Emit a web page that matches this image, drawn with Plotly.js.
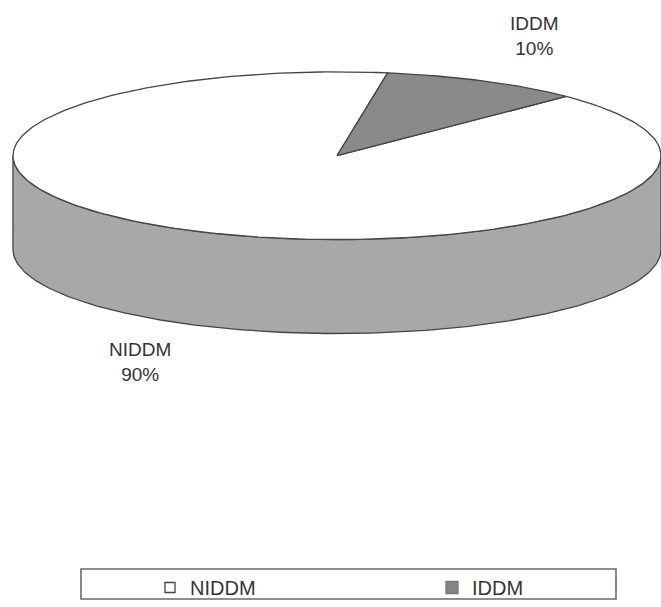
<!DOCTYPE html>
<html><head><meta charset="utf-8">
<script src="https://cdn.plot.ly/plotly-3.0.1.min.js"></script>
<style>html,body{margin:0;padding:0;background:#fff}#chart{width:661px;height:607px}</style>
</head><body><div id="chart"></div>
<script>
// ---- data ----
const categories = ['NIDDM', 'IDDM'];
const values = [90, 10];
const topColors = ['#ffffff', '#8a8a8a'];
const sideColors = ['#a8a8a8', '#7a7a7a'];
const legendColors = ['#ffffff', '#858585'];
const startAngle = 45; // degrees clockwise from 12 o'clock where the first slice starts

// ---- geometry helpers ----
const DEPTH = 1.12;   // pie thickness in units of the vertical radius
const total = values.reduce((a, b) => a + b, 0);
let acc = startAngle;
const slices = values.map((v, i) => { const s = acc; const e = acc + v / total * 360; acc = e; return {s, e, i}; });

function pt(deg, dy) { const r = deg * Math.PI / 180; return [Math.sin(r), Math.cos(r) + (dy || 0)]; }
function arc(s, e, dy) {
  const pts = []; const n = Math.max(2, Math.ceil(Math.abs(e - s)));
  for (let k = 0; k <= n; k++) pts.push(pt(s + (e - s) * k / n, dy));
  return pts;
}
const lineStyle = {color: '#444', width: 1.3};
const traces = [];

// side walls (visible front half: 90..270 deg)
slices.forEach(sl => {
  for (let k = 0; k <= 1; k++) {
    const a = Math.max(sl.s, 90 + 360 * k), b = Math.min(sl.e, 270 + 360 * k);
    if (b > a) {
      const pts = arc(a, b, 0).concat(arc(b, a, -DEPTH));
      pts.push(pts[0]);
      traces.push({type: 'scatter', mode: 'lines', x: pts.map(p => p[0]), y: pts.map(p => p[1]),
        fill: 'toself', fillcolor: sideColors[sl.i], line: lineStyle, showlegend: false, hoverinfo: 'skip'});
    }
  }
});
// top faces
slices.forEach(sl => {
  const pts = [[0, 0]].concat(arc(sl.s, sl.e, 0)); pts.push([0, 0]);
  traces.push({type: 'scatter', mode: 'lines', x: pts.map(p => p[0]), y: pts.map(p => p[1]),
    fill: 'toself', fillcolor: topColors[sl.i], line: lineStyle, showlegend: false,
    name: categories[sl.i], hoverinfo: 'name'});
});
// legend entries
categories.forEach((c, i) => {
  const t = {type: 'scatter', mode: 'markers', x: [null], y: [null], name: c,
    marker: {symbol: 'square', size: i === 0 ? 10 : 12, color: legendColors[i],
      line: {color: i === 0 ? '#444' : '#777', width: 1.3}},
    showlegend: true};
  if (i === 0) t.legendwidth = 237;
  traces.push(t);
});

const FONT = 'Liberation Sans, Arial, sans-serif';
// labels
const annotations = slices.map(sl => {
  const m = (sl.s + sl.e) / 2 * Math.PI / 180;
  const c = Math.cos(m);
  return {x: 1.34 * Math.sin(m), y: 1.55 * c + (c < 0 ? -DEPTH : 0) + 0.045, xref: 'x', yref: 'y',
    text: categories[sl.i] + '<br>' + Math.round(values[sl.i] / total * 100) + '%',
    showarrow: false, font: {family: FONT, size: 19, color: '#333'}};
});

const W = 661, H = 607;
const layout = {
  width: W, height: H, margin: {l: 0, r: 0, t: 0, b: 0},
  paper_bgcolor: '#fff', plot_bgcolor: '#fff',
  xaxis: {range: [-1.0401, 1.0], visible: false, fixedrange: true},
  yaxis: {range: [-5.369, 1.857], visible: false, fixedrange: true},
  showlegend: true,
  legend: {orientation: 'h', x: 150 / W, xanchor: 'left', y: 1 - 588 / H, yanchor: 'middle',
    bgcolor: 'rgba(0,0,0,0)', borderwidth: 0, itemwidth: 30,
    font: {family: FONT, size: 20, color: '#333'}},
  shapes: [{type: 'rect', xref: 'paper', yref: 'paper', x0: 81 / W, x1: 616 / W, y0: 1 - 600 / H, y1: 1 - 570 / H,
    line: {color: '#6a6a6a', width: 1.6}, fillcolor: 'rgba(0,0,0,0)'}],
  annotations: annotations,
  font: {family: FONT}
};
Plotly.newPlot('chart', traces, layout, {staticPlot: true, displayModeBar: false});
</script>
</body></html>
